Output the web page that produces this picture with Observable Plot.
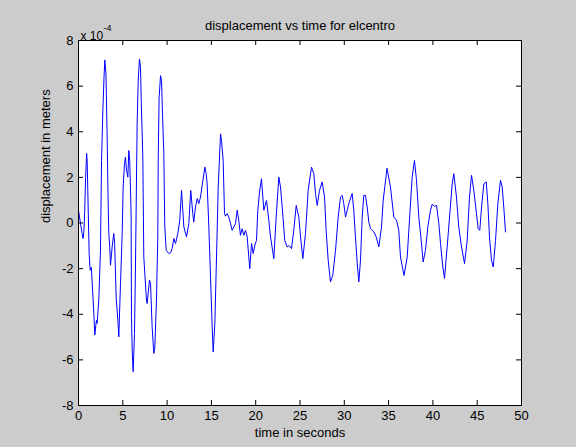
<!DOCTYPE html>
<html><head><meta charset="utf-8">
<script src="https://cdn.jsdelivr.net/npm/d3@7"></script>
<script src="https://cdn.jsdelivr.net/npm/@observablehq/plot@0.6"></script>
<style>
html,body{margin:0;padding:0;background:#cccccc;}
#chart svg{display:block;}
</style></head><body><div id="chart"></div>
<script>
const titleText = "displacement vs time for elcentro";
const xLabel = "time in seconds";
const yLabel = "displacement in meters";
const exponentBase = "x 10";
const exponentPower = "-4";
const xTicks = [0,5,10,15,20,25,30,35,40,45,50];
const yTicks = [-8,-6,-4,-2,0,2,4,6,8];
// time in seconds
const time = [0.00,0.20,0.40,0.52,0.60,0.70,0.80,0.92,0.98,1.20,
1.32,1.45,1.55,1.73,1.84,1.95,2.03,2.10,2.29,2.48,
2.60,2.76,2.88,2.97,3.10,3.22,3.33,3.42,3.53,3.61,
3.80,3.98,4.08,4.25,4.44,4.55,4.74,4.93,5.04,5.19,
5.30,5.42,5.57,5.68,5.78,5.94,5.98,6.06,6.17,6.32,
6.43,6.62,6.74,6.88,7.00,7.08,7.26,7.37,7.67,7.75,
8.01,8.13,8.31,8.50,8.61,8.80,8.95,9.00,9.10,9.26,
9.37,9.48,9.63,9.74,9.90,10.19,10.40,10.57,10.76,10.95,
11.21,11.43,11.63,11.89,12.19,12.45,12.67,12.90,13.01,13.20,
13.40,13.58,13.77,13.96,14.26,14.41,14.52,14.71,14.90,15.09,
15.20,15.39,15.54,15.77,16.03,16.14,16.33,16.48,16.59,16.78,
16.96,17.16,17.35,17.53,17.72,17.91,18.09,18.28,18.47,18.66,
18.85,19.04,19.22,19.33,19.53,19.72,19.90,20.09,20.24,20.43,
20.65,20.92,21.22,21.48,21.67,22.05,22.31,22.61,22.80,22.99,
23.28,23.55,23.74,24.04,24.30,24.57,24.87,25.06,25.32,25.62,
25.92,26.30,26.56,26.75,26.94,27.20,27.50,27.77,27.95,28.18,
28.44,28.70,29.01,29.31,29.57,29.76,29.94,30.14,30.51,30.89,
31.07,31.26,31.46,31.64,31.83,32.02,32.20,32.39,32.58,32.77,
32.96,33.33,33.60,33.90,34.20,34.39,34.82,35.21,35.59,35.89,
36.15,36.34,36.74,37.10,37.40,37.66,37.92,38.15,38.41,38.68,
38.90,39.16,39.43,39.73,39.92,40.18,40.41,40.67,40.86,41.12,
41.31,41.61,41.91,42.18,42.36,42.66,42.92,43.23,43.57,43.87,
44.13,44.36,44.62,44.92,45.11,45.29,45.49,45.75,46.02,46.20,
46.39,46.61,46.81,47.07,47.33,47.63,47.82,48.00,48.19];
// displacement in units of 1e-4 m
const disp = [0.55,0.05,-0.45,-0.68,-0.40,0.50,2.00,3.05,2.70,-1.34,
-2.07,-1.95,-2.64,-3.95,-4.91,-4.50,-4.26,-4.40,-3.38,-1.20,
2.74,5.08,6.39,7.15,6.54,4.06,1.29,-0.46,-1.05,-1.85,
-1.05,-0.46,-0.90,-3.24,-4.26,-4.99,-2.65,-0.46,1.58,2.60,
2.89,2.31,2.01,3.18,2.74,0.41,-4.11,-5.57,-6.52,-4.84,
-1.93,4.35,6.24,7.19,6.83,5.37,2.89,-1.49,-3.38,-3.53,
-2.50,-2.65,-4.55,-5.72,-5.50,-3.38,-0.61,2.89,5.51,6.46,
6.24,4.79,3.04,-0.17,-1.20,-1.34,-1.30,-1.12,-0.68,-0.90,
-0.46,0.12,1.43,-0.17,-0.61,-0.03,1.43,0.41,0.04,0.70,
1.07,0.85,1.14,1.65,2.45,2.16,1.72,-0.17,-2.36,-4.55,
-5.65,-4.40,-2.07,1.58,3.91,3.62,2.74,0.41,0.30,0.41,
0.26,-0.03,-0.32,-0.17,-0.03,0.56,0.12,-0.54,-0.25,-0.54,
-0.32,-0.61,-1.49,-2.00,-0.90,-1.34,-0.98,-0.76,0.56,1.36,
1.94,0.56,0.99,0.12,-0.61,-1.56,0.26,2.01,1.58,0.70,
-0.76,-1.05,-0.98,-1.12,-0.32,0.77,0.26,-0.61,-1.56,-0.46,
1.43,2.45,2.16,1.29,0.77,1.43,1.80,1.14,-0.32,-1.63,
-2.58,-2.29,-1.20,0.26,1.14,1.21,0.85,0.26,0.85,1.29,
0.56,-0.61,-1.78,-2.58,-1.63,0.26,1.21,1.21,0.70,0.04,
-0.25,-0.39,-0.61,-1.05,-0.17,0.99,2.40,1.58,0.26,0.12,
-0.32,-1.49,-2.30,-1.49,0.41,2.01,2.74,1.87,0.26,-0.76,
-1.71,-1.20,-0.17,0.56,0.82,0.73,0.77,-0.03,-0.90,-1.93,
-2.43,-1.05,0.41,1.72,2.16,1.14,-0.17,-1.05,-1.78,-0.76,
1.14,2.09,1.43,0.41,-0.25,-0.32,0.70,1.72,1.80,0.85,
-0.61,-1.63,-1.93,-0.76,0.85,1.87,1.58,0.70,-0.39];

const data = time.map((t, i) => ({t, d: disp[i]}));
const fmt = d => String(d);
const xDomain = [xTicks[0], xTicks[xTicks.length - 1]];
const yDomain = [yTicks[0], yTicks[yTicks.length - 1]];

const chart = Plot.plot({
  width: 576, height: 447,
  marginLeft: 78, marginRight: 55, marginTop: 40, marginBottom: 42,
  style: {background: "#cccccc", fontFamily: "'Liberation Sans', Arial, sans-serif", fontSize: "13px", color: "black"},
  x: {domain: xDomain},
  y: {domain: yDomain},
  marks: [
    Plot.frame({fill: "white", stroke: "none"}),
    Plot.line(data, {x: "t", y: "d", stroke: "#0000ff", strokeWidth: 1}),
    Plot.frame({stroke: "black"}),
    // inward tick marks on all four sides
    Plot.ruleX(xTicks, {x: d => d, y1: yDomain[0], y2: yDomain[0], insetTop: -5, stroke: "black"}),
    Plot.ruleX(xTicks, {x: d => d, y1: yDomain[1], y2: yDomain[1], insetBottom: -5, stroke: "black"}),
    Plot.ruleY(yTicks, {y: d => d, x1: xDomain[0], x2: xDomain[0], insetRight: -5, stroke: "black"}),
    Plot.ruleY(yTicks, {y: d => d, x1: xDomain[1], x2: xDomain[1], insetLeft: -5, stroke: "black"}),
    Plot.axisX({ticks: xTicks, tickSize: 0, tickPadding: 5, tickFormat: fmt, fontSize: 13, label: null}),
    Plot.axisY({ticks: yTicks, tickSize: 0, tickPadding: 5, tickFormat: fmt, fontSize: 13, label: null}),
    Plot.text([xLabel], {frameAnchor: "bottom", dy: 31, fontSize: 13}),
    Plot.text([yLabel], {frameAnchor: "left", rotate: -90, dx: -33, fontSize: 13}),
    Plot.text([titleText], {frameAnchor: "top", dy: -20, fontSize: 13}),
    Plot.text([exponentBase], {frameAnchor: "top-left", textAnchor: "start", dx: 2, dy: -9, fontSize: 12}),
    Plot.text([exponentPower], {frameAnchor: "top-left", textAnchor: "start", dx: 25, dy: -16, fontSize: 9})
  ]
});
document.getElementById("chart").appendChild(chart);
</script>
</body></html>
